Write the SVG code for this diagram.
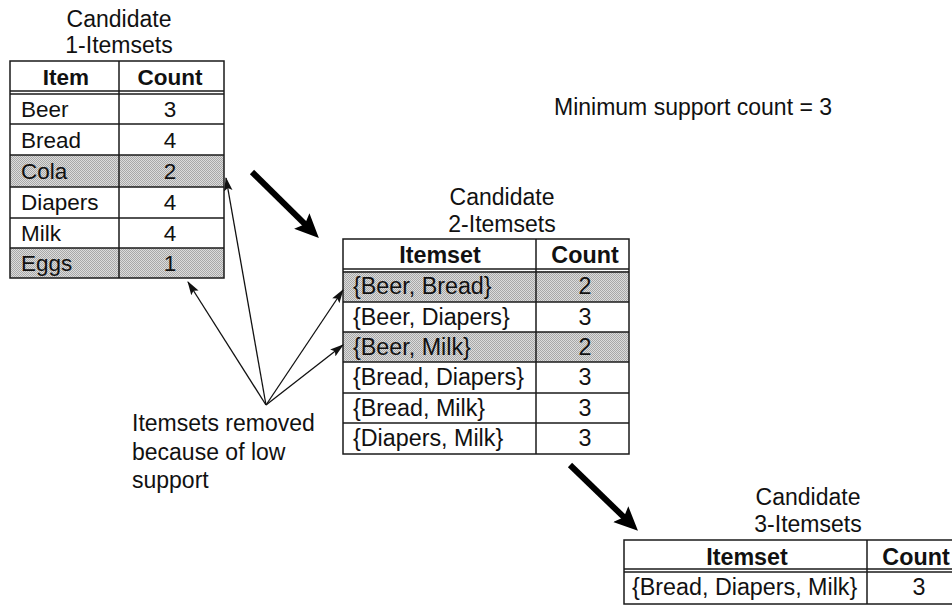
<svg xmlns="http://www.w3.org/2000/svg" width="952" height="608" viewBox="0 0 952 608">
  <style>
    text { font-family: "Liberation Sans", Arial, Helvetica, sans-serif; font-size: 23px; fill: #111; }
    #table1 text { font-size: 22.5px; }
    #table2 text, #table3 text { font-size: 23.3px; }
    #table1 .title, #table2 .title, #table3 .title { font-size: 23px; }
    .hd { font-weight: bold; text-anchor: middle; }
    .ct { text-anchor: middle; }
    .title { text-anchor: middle; }
    .grid { fill: none; stroke: #1a1a1a; stroke-width: 1.5; }
    .thick { stroke: #000; stroke-width: 6; fill: none; }
    .thin { stroke: #111; stroke-width: 1.3; fill: none; }
  </style>
  <defs>
    <!-- halftone screen used for pruned rows -->
    <pattern id="halftone" width="2" height="2" patternUnits="userSpaceOnUse">
      <rect width="2" height="2" fill="#dcdcdc"/>
      <rect x="0" y="0" width="1" height="1" fill="#a8a8a8"/>
      <rect x="1" y="1" width="1" height="1" fill="#a8a8a8"/>
    </pattern>
    <marker id="bigHead" markerUnits="userSpaceOnUse" markerWidth="24" markerHeight="24" viewBox="0 0 22 20" refX="8" refY="10" orient="auto">
      <path d="M0,0 L22,10 L0,20 L4,10 z" fill="#000"/>
    </marker>
    <marker id="smallHead" markerUnits="userSpaceOnUse" markerWidth="14" markerHeight="10" viewBox="0 0 13 8" refX="12" refY="4" orient="auto">
      <path d="M0,0 L13,4 L0,8 L2.5,4 z" fill="#111"/>
    </marker>
  </defs>

  <rect width="952" height="608" fill="#fff"/>

  <!-- Candidate 1-itemsets -->
  <g id="table1">
    <text class="title" x="119" y="27">Candidate</text>
    <text class="title" x="119" y="53">1-Itemsets</text>
    <rect x="10" y="155" width="214" height="32" fill="url(#halftone)"/>
    <rect x="10" y="248" width="214" height="30" fill="url(#halftone)"/>
    <rect class="grid" x="10" y="61" width="214" height="217"/>
    <line class="grid" x1="119" y1="61" x2="119" y2="278"/>
    <line class="grid" x1="10" y1="91" x2="224" y2="91"/>
    <line class="grid" x1="10" y1="94" x2="224" y2="94"/>
    <line class="grid" x1="10" y1="124" x2="224" y2="124"/>
    <line class="grid" x1="10" y1="155" x2="224" y2="155"/>
    <line class="grid" x1="10" y1="187" x2="224" y2="187"/>
    <line class="grid" x1="10" y1="218" x2="224" y2="218"/>
    <line class="grid" x1="10" y1="248" x2="224" y2="248"/>
    <text class="hd" x="66" y="85">Item</text>
    <text class="hd" x="170" y="85">Count</text>
    <text x="21" y="117">Beer</text><text class="ct" x="170" y="117">3</text>
    <text x="21" y="148">Bread</text><text class="ct" x="170" y="148">4</text>
    <text x="21" y="179">Cola</text><text class="ct" x="170" y="179">2</text>
    <text x="21" y="210">Diapers</text><text class="ct" x="170" y="210">4</text>
    <text x="21" y="241">Milk</text><text class="ct" x="170" y="241">4</text>
    <text x="21" y="271">Eggs</text><text class="ct" x="170" y="271">1</text>
  </g>

  <!-- Candidate 2-itemsets -->
  <g id="table2">
    <text class="title" x="502" y="205">Candidate</text>
    <text class="title" x="502" y="232">2-Itemsets</text>
    <rect x="343" y="271" width="286" height="31" fill="url(#halftone)"/>
    <rect x="343" y="332" width="286" height="30" fill="url(#halftone)"/>
    <rect class="grid" x="343" y="239" width="286" height="215"/>
    <line class="grid" x1="536" y1="239" x2="536" y2="454"/>
    <line class="grid" x1="343" y1="269" x2="629" y2="269"/>
    <line class="grid" x1="343" y1="272" x2="629" y2="272"/>
    <line class="grid" x1="343" y1="302" x2="629" y2="302"/>
    <line class="grid" x1="343" y1="332" x2="629" y2="332"/>
    <line class="grid" x1="343" y1="362" x2="629" y2="362"/>
    <line class="grid" x1="343" y1="393" x2="629" y2="393"/>
    <line class="grid" x1="343" y1="423" x2="629" y2="423"/>
    <text class="hd" x="440" y="263">Itemset</text>
    <text class="hd" x="585" y="263">Count</text>
    <text x="353" y="294">{Beer, Bread}</text><text class="ct" x="585" y="294">2</text>
    <text x="353" y="325">{Beer, Diapers}</text><text class="ct" x="585" y="325">3</text>
    <text x="353" y="355">{Beer, Milk}</text><text class="ct" x="585" y="355">2</text>
    <text x="353" y="385">{Bread, Diapers}</text><text class="ct" x="585" y="385">3</text>
    <text x="353" y="416">{Bread, Milk}</text><text class="ct" x="585" y="416">3</text>
    <text x="353" y="446">{Diapers, Milk}</text><text class="ct" x="585" y="446">3</text>
  </g>

  <!-- Candidate 3-itemsets -->
  <g id="table3">
    <text class="title" x="808" y="505">Candidate</text>
    <text class="title" x="808" y="532">3-Itemsets</text>
    <rect class="grid" x="624" y="540" width="341" height="64"/>
    <line class="grid" x1="867" y1="540" x2="867" y2="604"/>
    <line class="grid" x1="624" y1="569" x2="965" y2="569"/>
    <line class="grid" x1="624" y1="572" x2="965" y2="572"/>
    <text class="hd" x="747" y="565">Itemset</text>
    <text class="hd" x="916" y="565">Count</text>
    <text x="632" y="595">{Bread, Diapers, Milk}</text><text class="ct" x="919" y="595">3</text>
  </g>

  <g id="minsup">
    <text x="554" y="115">Minimum support count = 3</text>
  </g>

  <g id="note">
    <text x="132" y="431">Itemsets removed</text>
    <text x="132" y="460">because of low</text>
    <text x="132" y="488">support</text>
  </g>

  <g id="connectors">
    <line class="thick" x1="252" y1="172" x2="308" y2="227.2" marker-end="url(#bigHead)"/>
    <line class="thick" x1="570" y1="465" x2="627" y2="520.2" marker-end="url(#bigHead)"/>
    <line class="thin" x1="266" y1="405" x2="188" y2="282" marker-end="url(#smallHead)"/>
    <line class="thin" x1="266" y1="405" x2="226" y2="178" marker-end="url(#smallHead)"/>
    <line class="thin" x1="266" y1="405" x2="343" y2="290" marker-end="url(#smallHead)"/>
    <line class="thin" x1="266" y1="405" x2="343" y2="345" marker-end="url(#smallHead)"/>
  </g>
</svg>
